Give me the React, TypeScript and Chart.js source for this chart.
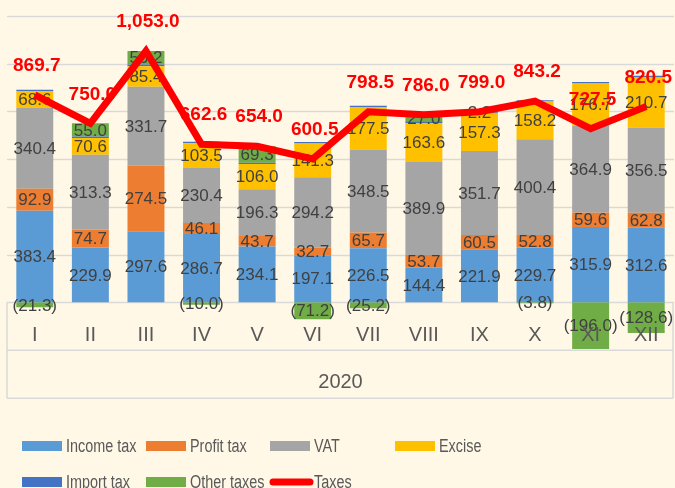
import React, { useEffect, useRef } from "react";
import { Chart, registerables } from "chart.js";

Chart.register(...registerables);

const categories = ["I", "II", "III", "IV", "V", "VI", "VII", "VIII", "IX", "X", "XI", "XII"];
const yearLabel = "2020";
const incomeTax = [383.4, 229.9, 297.6, 286.7, 234.1, 197.1, 226.5, 144.4, 221.9, 229.7, 315.9, 312.6];
const profitTax = [92.9, 74.7, 274.5, 46.1, 43.7, 32.7, 65.7, 53.7, 60.5, 52.8, 59.6, 62.8];
const vat = [340.4, 313.3, 331.7, 230.4, 196.3, 294.2, 348.5, 389.9, 351.7, 400.4, 364.9, 356.5];
const excise = [68.6, 70.6, 85.4, 103.5, 106.0, 141.3, 177.5, 163.6, 157.3, 158.2, 176.7, 210.7];
const importTax = [5.7, 6.5, 7.6, 5.9, 4.6, 6.4, 5.5, 7.4, 5.4, 5.9, 6.4, 6.5];
const otherTaxes = [-21.3, 55.0, 56.2, -10.0, 69.3, -71.2, -25.2, 27.0, 2.2, -3.8, -196.0, -128.6];
const totalTaxes = [869.7, 750.0, 1053.0, 662.6, 654.0, 600.5, 798.5, 786.0, 799.0, 843.2, 727.5, 820.5];
const gridValues = [0, 200, 400, 600, 800, 1000, 1200];

const BG = "#FFF8E6";
const GRID = "#D9D9D9";
const TEXT = "#404040";
const FONT = '"Liberation Sans", Arial, sans-serif';

const fmt = (v: number) => {
  const s = Math.abs(v).toLocaleString("en-US", { minimumFractionDigits: 1, maximumFractionDigits: 1 });
  return v < 0 ? `(${s})` : s;
};

const legendItems = [
  { label: "Income tax", color: "#5B9BD5", x: 22, row: 0, line: false },
  { label: "Profit tax", color: "#ED7D31", x: 146, row: 0, line: false },
  { label: "VAT", color: "#A5A5A5", x: 270, row: 0, line: false },
  { label: "Excise", color: "#FFC000", x: 395, row: 0, line: false },
  { label: "Import tax", color: "#4472C4", x: 22, row: 1, line: false },
  { label: "Other taxes", color: "#70AD47", x: 146, row: 1, line: false },
  { label: "Taxes", color: "#FF0000", x: 270, row: 1, line: true },
];

const customPlugin = {
  id: "custom",
  beforeDraw(chart: any) {
    const { ctx, width, height } = chart;
    ctx.save();
    ctx.fillStyle = BG;
    ctx.fillRect(0, 0, width, height);
    ctx.restore();
  },
  beforeDatasetsDraw(chart: any) {
    const { ctx, chartArea, scales } = chart;
    const y = scales.y;
    ctx.save();
    ctx.strokeStyle = GRID;
    ctx.lineWidth = 1.5;
    gridValues.forEach((v) => {
      const py = Math.round(y.getPixelForValue(v)) + 0.5;
      ctx.beginPath();
      ctx.moveTo(chartArea.left, py);
      ctx.lineTo(chartArea.right, py);
      ctx.stroke();
    });
    const y0 = y.getPixelForValue(0);
    const y1 = y0 + 48;
    const y2 = y0 + 96;
    const l = chartArea.left;
    const r = chartArea.right - 1;
    ctx.beginPath();
    ctx.moveTo(l, y1);
    ctx.lineTo(r, y1);
    ctx.moveTo(l, y2);
    ctx.lineTo(r, y2);
    ctx.moveTo(l, y0);
    ctx.lineTo(l, y2);
    ctx.moveTo(r, y0);
    ctx.lineTo(r, y2);
    ctx.stroke();
    ctx.restore();
  },
  afterDatasetDraw(chart: any, args: any) {
    // after the last bar dataset (index 0) is drawn, label all bar segments
    if (args.index !== 0) return;
    const { ctx } = chart;
    ctx.save();
    ctx.font = `17px ${FONT}`;
    ctx.fillStyle = TEXT;
    ctx.textAlign = "center";
    ctx.textBaseline = "middle";
    chart.data.datasets.forEach((ds: any, di: number) => {
      if (ds.type !== "bar" || ds.label === "Import tax") return;
      const meta = chart.getDatasetMeta(di);
      meta.data.forEach((el: any, i: number) => {
        const v = ds.data[i];
        const cy = (el.y + el.base) / 2;
        ctx.fillText(fmt(v), el.x, cy + 1);
      });
    });
    ctx.restore();
  },
  afterDatasetsDraw(chart: any) {
    const { ctx, scales, chartArea } = chart;
    const x = scales.x;
    const y = scales.y;
    ctx.save();
    // line labels
    const lineIdx = chart.data.datasets.findIndex((d: any) => d.type === "line");
    const lmeta = chart.getDatasetMeta(lineIdx);
    ctx.font = `bold 19px ${FONT}`;
    ctx.fillStyle = "#FF0000";
    ctx.textAlign = "center";
    ctx.textBaseline = "middle";
    lmeta.data.forEach((pt: any, i: number) => {
      ctx.fillText(fmt(totalTaxes[i]), pt.x + 2, pt.y - 29);
    });
    // category labels
    const y0 = y.getPixelForValue(0);
    ctx.font = `20px ${FONT}`;
    ctx.fillStyle = "#595959";
    categories.forEach((c, i) => {
      ctx.fillText(c, x.getPixelForValue(i), y0 + 33);
    });
    ctx.fillText(yearLabel, (chartArea.left + chartArea.right) / 2, y0 + 80);
    // legend
    ctx.font = `18px ${FONT}`;
    ctx.textAlign = "left";
    legendItems.forEach((it) => {
      const cy = it.row === 0 ? 446 : 482;
      if (it.line) {
        ctx.strokeStyle = it.color;
        ctx.lineWidth = 7;
        ctx.lineCap = "round";
        ctx.beginPath();
        ctx.moveTo(it.x + 3, cy);
        ctx.lineTo(it.x + 40, cy);
        ctx.stroke();
      } else {
        ctx.fillStyle = it.color;
        ctx.fillRect(it.x, cy - 5, 40, 10);
      }
      ctx.fillStyle = "#595959";
      ctx.save();
      ctx.translate(it.x + 44, cy + 1);
      ctx.scale(0.8, 1);
      ctx.fillText(it.label, 0, 0);
      ctx.restore();
    });
    ctx.restore();
  },
};

export default function App() {
  const ref = useRef<HTMLCanvasElement | null>(null);
  useEffect(() => {
    document.body.style.margin = "0";
    if (!ref.current) return;
    const barDs = (label: string, data: number[], color: string) => ({
      type: "bar" as const,
      label,
      data,
      backgroundColor: color,
      borderWidth: 0,
      order: 1,
      barPercentage: 0.665,
      categoryPercentage: 1,
    });
    const chart = new Chart(ref.current, {
      type: "bar",
      data: {
        labels: categories,
        datasets: [
          barDs("Income tax", incomeTax, "#5B9BD5"),
          barDs("Profit tax", profitTax, "#ED7D31"),
          barDs("VAT", vat, "#A5A5A5"),
          barDs("Excise", excise, "#FFC000"),
          barDs("Import tax", importTax, "#4472C4"),
          barDs("Other taxes", otherTaxes, "#70AD47"),
          {
            type: "line" as const,
            label: "Taxes",
            data: totalTaxes,
            borderColor: "#FF0000",
            backgroundColor: "#FF0000",
            borderWidth: 7,
            pointRadius: 0,
            tension: 0,
            order: 0,
          } as any,
        ],
      },
      options: {
        responsive: false,
        animation: false,
        devicePixelRatio: 1,
        layout: { padding: { left: 7, right: 1, top: 16, bottom: 138 } },
        plugins: { legend: { display: false }, tooltip: { enabled: false } },
        scales: {
          x: { display: false, stacked: true },
          y: { display: false, stacked: true, min: -200, max: 1200 },
        },
      },
      plugins: [customPlugin],
    });
    return () => chart.destroy();
  }, []);
  return (
    <div style={{ width: 675, height: 488 }}>
      <canvas ref={ref} width={675} height={488} />
    </div>
  );
}
